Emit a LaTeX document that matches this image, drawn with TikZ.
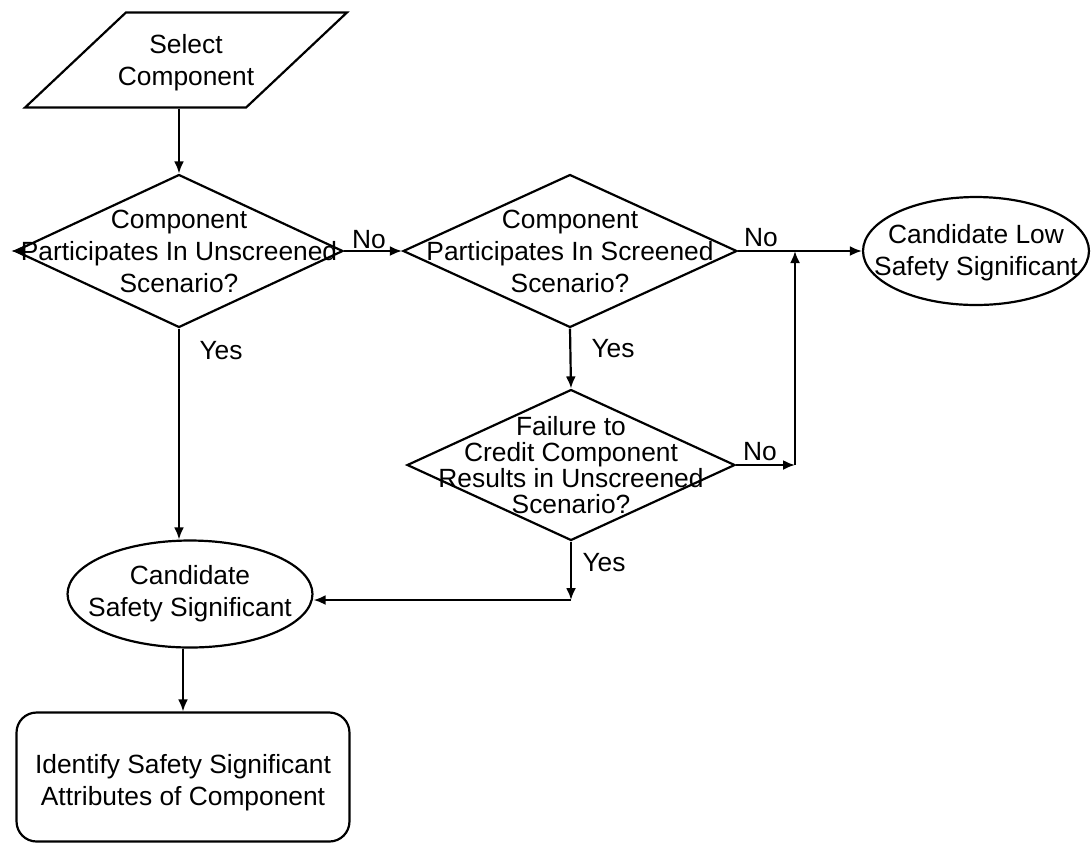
\documentclass[tikz,border=0pt]{standalone}
\usepackage{fontspec}
\setmainfont{Liberation Sans}
\usetikzlibrary{shapes.geometric,arrows.meta}

\begin{document}
\begin{tikzpicture}[x=0.02cm, y=-0.02cm,
        every node/.style={font=\fontsize{15pt}{18.2pt}\selectfont},
        iobox/.style={draw, trapezium, trapezium left angle=50, trapezium right angle=130,
            trapezium stretches=true, minimum width=6.44cm, minimum height=1.9cm,
            line width=1.25pt},
        decision/.style={draw, diamond, line width=1.25pt, inner sep=0pt},
        terminal/.style={draw, ellipse, line width=1.25pt, inner sep=0pt},
        actbox/.style={draw, rectangle, rounded corners=0.4cm, line width=1.25pt,
            minimum width=6.66cm, minimum height=2.58cm},
        caption/.style={align=center, inner sep=0pt},
        tag/.style={inner sep=0pt},
        flow/.style={-{Latex[length=2.4mm,width=2mm]}, line width=1.25pt}]
        \useasboundingbox (0,0) rectangle (1091,843);

        \node[iobox] (select) at (186,60) {};
        \node[caption] (selecttxt) at (186,63) {Select\\Component};

        \node[decision, minimum width=6.56cm, minimum height=3.06cm] (d1) at (179,251) {};
        \node[caption] (d1txt) at (d1) {Component\\Participates In Unscreened\\Scenario?};

        \node[decision, minimum width=6.68cm, minimum height=3.06cm] (d2) at (570,251) {};
        \node[caption] (d2txt) at (d2) {Component\\Participates In Screened\\Scenario?};

        \node[decision, minimum width=6.56cm, minimum height=3.02cm] (d3) at (571,465) {};
        \node[caption, font=\fontsize{15pt}{14.7pt}\selectfont] (d3txt) at (571,465)
            {Failure to\\Credit Component\\Results in Unscreened\\Scenario?};

        \node[terminal, minimum width=4.52cm, minimum height=2.16cm] (low) at (976,251) {};
        \node[caption] (lowtxt) at (976,253) {Candidate Low\\Safety Significant};

        \node[terminal, minimum width=4.9cm, minimum height=2.14cm] (safe) at (190,594) {};
        \node[caption] (safetxt) at (safe) {Candidate\\Safety Significant};

        \node[actbox] (task) at (183,777) {};
        \node[caption] (tasktxt) at (183,783) {Identify Safety Significant\\Attributes of Component};

        \coordinate (stub) at (11,251);
        \coordinate (join) at (795,465);
        \coordinate (merge) at (571,600);

        \draw[flow] (select.south -| d1.north) -- (d1.north);
        \draw[flow] (d1.west) -- (stub);
        \draw[flow] (d1.east) -- (d2.west);
        \draw[flow] (d1.south) -- (d1.south |- safe.north);
        \draw[flow] (d2.east) -- (low.west);
        \draw[flow] (d2.south) -- (d3.north);
        \draw[flow] (d3.east) -- (join);
        \draw[flow] (join) -- (join |- d2.east);
        \draw[flow] (d3.south) -- (merge);
        \draw[flow] (merge) -- (merge -| safe.east);
        \draw[flow] (task.north |- safe.south) -- (task.north);

        \node[tag] (no1) at (369,240) {No};
        \node[tag] (yes1) at (221,351) {Yes};
        \node[tag] (no2) at (761,238) {No};
        \node[tag] (yes2) at (613,349) {Yes};
        \node[tag] (no3) at (760,452) {No};
        \node[tag] (yes3) at (604,563) {Yes};
    \end{tikzpicture}
\end{document}
